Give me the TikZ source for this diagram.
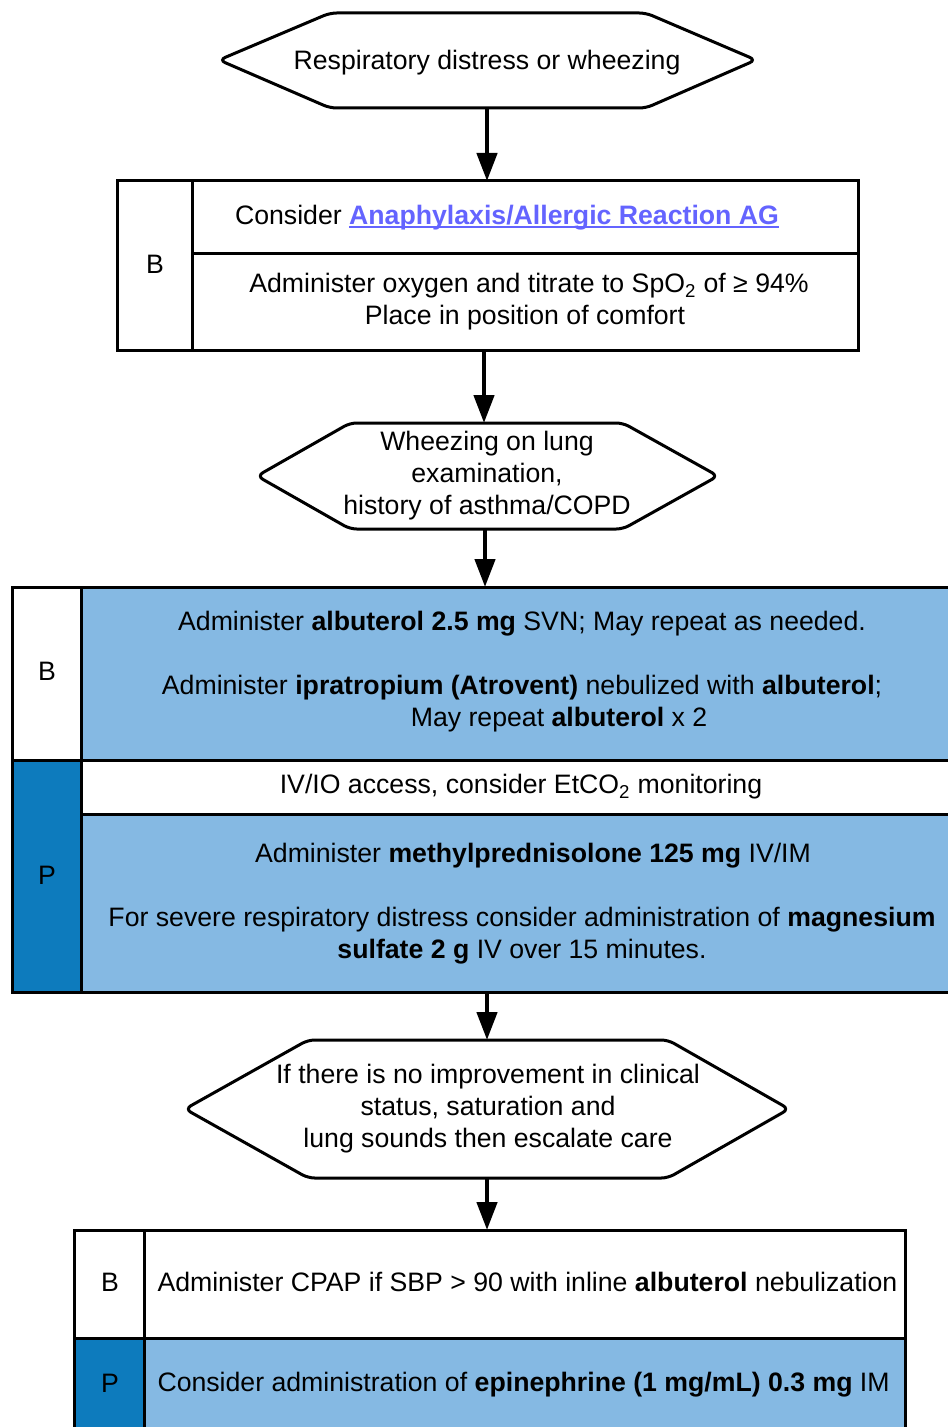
\documentclass[tikz,border=0pt]{standalone}
\usepackage{fontspec}
\setmainfont{Liberation Sans}
\usetikzlibrary{arrows.meta,fit}

\definecolor{pblue}{HTML}{0D7BBD}
\definecolor{lblue}{HTML}{85B9E3}
\definecolor{linkblue}{HTML}{6464FF}

\newsavebox{\linkbox}
\newcommand{\linkul}[1]{\sbox{\linkbox}{#1}\rlap{\rule[-2.4pt]{\wd\linkbox}{1.5pt}}\usebox{\linkbox}}

\begin{document}
\begin{tikzpicture}[x = 0.75pt, y = -0.75pt, line width = 2.25pt,
        every node/.style = {font = \fontsize{20}{24}\selectfont, align = center},
        cell/.style = {draw, inner sep = 0pt},
        hexa/.style = {draw, rounded corners = 5pt},
        flow/.style = {line width = 3.4pt, -{Triangle[length = 21pt, width = 15pt]}}]

        \useasboundingbox (0, 0) rectangle (948, 1427);

        % first question
        \draw[hexa] (219, 60) -- (330, 13) -- (646, 13) -- (756, 60) -- (646, 108) -- (330, 108) -- cycle;
        \coordinate (qa-s) at (487, 108);
        \node (qa) at (487, 63) {Respiratory distress or wheezing};

        % B box
        \node[cell, fit = {(117, 181) (192, 350)}] (ba) {};
        \node[cell, fit = {(192, 181) (858, 253)}] (ba-top) {};
        \node[cell, fit = {(192, 253) (858, 350)}] (ba-bot) {};
        \node (ba-lab) at (155, 264) {B};
        \node (ba-ag) at (507, 218) {Consider \textcolor{linkblue}{\textbf{\linkul{Anaphylaxis/Allergic Reaction AG}}}};
        \node (ba-ox) at (529, 286) {Administer oxygen and titrate to SpO\textsubscript{2} of ≥ 94\%};
        \node (ba-pl) at (525, 318) {Place in position of comfort};
        \coordinate (ba-n) at (487, 181);
        \coordinate (ba-s) at (484, 350);

        % second question
        \draw[hexa] (257, 476) -- (350, 423) -- (623, 423) -- (718, 476) -- (623, 529) -- (350, 529) -- cycle;
        \coordinate (qb-n) at (484, 423);
        \coordinate (qb-s) at (485, 529);
        \node (qb) at (487, 476) {Wheezing on lung\\examination,\\history of asthma/COPD};

        % B / P box
        \node[cell, fill = white, fit = {(12, 587) (81, 760)}] (bb) {};
        \node[cell, fill = lblue, fit = {(81, 587) (962, 760)}] (bb-txt) {};
        \node[cell, fill = pblue, fit = {(12, 760) (81, 992)}] (pb) {};
        \node[cell, fill = white, fit = {(81, 760) (962, 814)}] (pb-iv) {};
        \node[cell, fill = lblue, fit = {(81, 814) (962, 992)}] (pb-txt) {};
        \coordinate (bb-n) at (485, 587);
        \coordinate (pb-s) at (487, 992);

        \node (bb-lab) at (47, 671) {B};
        \node (pb-lab) at (47, 875) {P};
        \node (bb-alb) at (522, 656) {Administer \textbf{albuterol 2.5 mg} SVN; May repeat as needed.\\[24pt]
                Administer \textbf{ipratropium (Atrovent)} nebulized with \textbf{albuterol};};
        \node (bb-rep) at (559, 720) {May repeat \textbf{albuterol} x 2};
        \node (pb-ivt) at (521, 787) {IV/IO access, consider EtCO\textsubscript{2} monitoring};
        \node (pb-met) at (533, 856) {Administer \textbf{methylprednisolone 125 mg} IV/IM};
        \node (pb-mag) at (522, 936) {For severe respiratory distress consider administration of \textbf{magnesium}\\
                \textbf{sulfate 2 g} IV over 15 minutes.};

        % third question
        \draw[hexa] (185, 1109) -- (308, 1040) -- (668, 1040) -- (789, 1109) -- (668, 1178) -- (308, 1178) -- cycle;
        \coordinate (qc-n) at (487, 1040);
        \coordinate (qc-s) at (487, 1178);
        \node (qc) at (488, 1109) {If there is no improvement in clinical\\status, saturation and\\lung sounds then escalate care};

        % last box
        \node[cell, fill = white, fit = {(74, 1230) (144, 1338)}] (bc) {};
        \node[cell, fill = white, fit = {(144, 1230) (905, 1338)}] (bc-txt) {};
        \node[cell, fill = pblue, fit = {(74, 1338) (144, 1432)}] (pc) {};
        \node[cell, fill = lblue, fit = {(144, 1338) (905, 1432)}] (pc-txt) {};
        \coordinate (bc-n) at (487, 1230);

        \node (bc-lab) at (110, 1282) {B};
        \node (pc-lab) at (110, 1383) {P};
        \node[anchor = west, inner sep = 0pt] (bc-cp) at (156, 1282) {Administer CPAP if SBP > 90 with inline \textbf{albuterol} nebulization};
        \node[anchor = west, inner sep = 0pt] (pc-ep) at (156, 1385) {Consider administration of \textbf{epinephrine (1 mg/mL) 0.3 mg} IM};

        % connectors
        \draw[flow] (qa-s) -- (ba-n);
        \draw[flow] (ba-s) -- (qb-n);
        \draw[flow] (qb-s) -- (bb-n);
        \draw[flow] (pb-s) -- (qc-n);
        \draw[flow] (qc-s) -- (bc-n);

    \end{tikzpicture}
\end{document}
